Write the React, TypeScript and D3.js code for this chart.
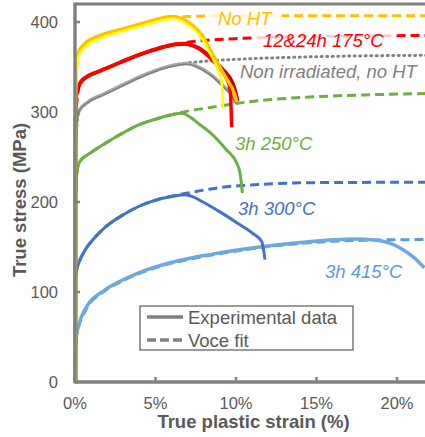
import React from 'react';
import * as d3 from 'd3';

const width = 425;
const height = 437;

// [true plastic strain (%), true stress (MPa)]
const noHtA = [[0.03, 0], [0.035, 300], [0.06, 335], [0.2, 365], [0.6, 376], [1.5, 384.5], [2.9, 392], [4, 397.5], [5, 402.5], [5.7, 405.5], [6.1, 406], [6.5, 404.5], [7.0, 400], [7.5, 393], [7.9, 385], [8.3, 372], [8.8, 356], [9.4, 337], [9.95, 318], [10.05, 311]];
const noHtB = [[0.03, 0], [0.035, 300], [0.08, 340], [0.2, 361], [0.6, 372], [1.5, 381.5], [2.9, 389.5], [4, 395], [5, 400], [5.7, 403], [6.1, 403.5], [6.5, 402], [7.0, 397], [7.5, 390], [7.9, 381], [8.3, 368], [8.8, 350], [9.1, 334], [9.2, 304]];
const red175A = [[0.03, 0], [0.035, 290], [0.08, 318], [0.3, 331], [0.7, 338.5], [1.5, 345], [2.5, 352.5], [3.5, 360], [4.5, 366.5], [5.5, 372], [6.3, 375], [6.85, 375.5], [7.4, 373], [7.8, 370], [8.4, 361], [9.2, 347], [9.8, 332], [10.05, 317], [10.1, 312]];
const red175B = [[0.03, 0], [0.035, 280], [0.06, 305], [0.1, 322], [0.3, 332], [0.7, 339], [1.5, 345.5], [2.5, 353], [3.5, 360.5], [4.5, 367], [5.5, 372.5], [6.3, 375.5], [6.85, 376], [7.4, 373.5], [7.8, 369], [8.4, 360], [9.0, 348], [9.5, 334], [9.65, 322], [9.73, 283]];
const grayA = [[0.03, 0], [0.035, 260], [0.1, 290], [0.25, 301], [0.8, 311], [1.8, 320], [2.9, 329.5], [3.95, 338.5], [4.99, 346], [6.02, 351.5], [6.96, 354], [7.55, 351], [8.4, 342], [9.2, 329], [9.8, 317], [9.95, 310]];
const grayB = [[0.04, 0], [0.045, 265], [0.12, 292], [0.3, 302.5], [0.85, 311], [1.8, 319], [2.9, 328.5], [3.95, 337.5], [4.99, 345], [6.02, 350.5], [6.96, 353], [7.55, 350], [8.4, 341], [9.2, 328], [9.8, 316], [10.0, 309]];
const green250 = [[0.03, 0], [0.035, 200], [0.08, 228], [0.15, 237], [0.3, 245], [1, 255], [2, 266.5], [3, 277], [4, 286], [5, 292], [6, 297], [6.65, 298.5], [7.1, 295], [7.68, 287], [8.4, 277], [9.4, 258], [10.05, 243], [10.25, 232], [10.4, 210]];
const blue300 = [[0.03, 0], [0.035, 115], [0.1, 124], [0.23, 132], [0.64, 147], [1.26, 161], [1.88, 172], [2.92, 185], [3.95, 195], [4.99, 202], [6.02, 206], [6.85, 208], [7.3, 206], [7.95, 200], [9.0, 189], [10.05, 177], [11.05, 165], [11.6, 156], [11.8, 136]];
const lightBlue415 = [[0.03, 0], [0.05, 47], [0.2, 61], [0.7, 83], [1.75, 101], [2.8, 112], [3.85, 120.5], [4.85, 127], [5.9, 132.5], [7, 137], [8, 140.5], [9, 143.5], [10, 146.3], [11.7, 150.5], [14.0, 155], [16.0, 158], [17.3, 159], [18.75, 157.5], [20.2, 149], [21.0, 139], [21.7, 127]];

// Voce fits
const fitNoHt = [[0, 320], [0.2, 364], [0.6, 375], [1.5, 384], [2.9, 391.5], [4, 397], [5, 401.5], [6, 404.5], [7, 406], [8, 406.7], [10, 407], [15, 407], [22, 407]];
const fitRed = [[0, 290], [0.3, 332], [0.7, 339], [1.5, 345.5], [2.5, 353], [3.5, 360.5], [4.5, 367], [5.5, 372.5], [6.3, 375.5], [7, 377.5], [8, 379.5], [10, 381.5], [12, 383], [15, 384], [22, 385]];
const fitGray = [[0, 260], [0.25, 301], [0.8, 311], [1.8, 320], [2.9, 329.5], [3.95, 338.5], [4.99, 346], [6.02, 351.5], [7, 354.5], [8, 356.3], [10, 358.5], [13, 360.5], [16, 361.8], [22, 363]];
const fitGreen = [[0, 200], [0.15, 237], [0.3, 245], [1, 255], [2, 266.5], [3, 277], [4, 286], [5, 292], [6, 297], [7, 301], [8.4, 305], [10, 309.5], [12, 313.5], [15, 317], [18, 319], [22, 320.5]];
const fitBlue = [[0, 120], [0.23, 132], [0.64, 147], [1.26, 161], [1.88, 172], [2.92, 185], [3.95, 195], [4.99, 202], [6.02, 206.5], [7, 210], [9, 216], [12, 220], [15, 221.5], [22, 222]];
const fitLightBlue = [[0, 45], [0.2, 60], [0.7, 81], [1.75, 100], [2.8, 111], [3.85, 119.5], [4.85, 126], [5.9, 131.5], [7, 136], [8, 139.5], [10, 145.5], [12, 150.5], [14, 154], [16, 156.3], [18, 157.5], [22, 158.3]];

const yTicks = [0, 100, 200, 300, 400];
const xTicks = [0, 5, 10, 15, 20];

const font = '"Liberation Sans", Arial, sans-serif';
const axisGray = '#808080';
const textGray = '#595959';

const x = d3.scaleLinear().domain([0, 22]).range([75, 75 + 22 * 16.1]);
const y = d3.scaleLinear().domain([0, 420]).range([382, 4]);

const line = d3.line<number[]>()
  .x(d => x(d[0]))
  .y(d => y(d[1]))
  .curve(d3.curveMonotoneX);

const fits = [
  { data: fitNoHt, color: '#FFC000', dash: '9,5' },
  { data: fitRed, color: '#FF0000', dash: '9,5' },
  { data: fitGray, color: '#808080', dash: '1,4.5', cap: 'round' },
  { data: fitGreen, color: '#70AD47', dash: '9,5' },
  { data: fitBlue, color: '#4472C4', dash: '9,5' },
  { data: fitLightBlue, color: '#5B9BD5', dash: '9,5' },
];

const curves = [
  { data: lightBlue415, color: '#6FA8DC', w: 3.5 },
  { data: blue300, color: '#4472C4', w: 3 },
  { data: green250, color: '#70AD47', w: 3 },
  { data: grayA, color: '#A6A6A6', w: 3.5 },
  { data: grayB, color: '#808080', w: 1.5 },
  { data: red175A, color: '#C00000', w: 3.5 },
  { data: red175B, color: '#FF0000', w: 3.5 },
  { data: noHtA, color: '#FFC000', w: 3.5 },
  { data: noHtB, color: '#FFFF00', w: 2.5 },
];

const labels = [
  { text: 'No HT', x: 218, y: 25, color: '#FFC000', bg: [205, 8, 77, 20] },
  { text: '12&24h 175°C', x: 263, y: 47, color: '#FF0000', bg: [252, 30, 142, 21] },
  { text: 'Non irradiated, no HT', x: 240, y: 78, color: '#808080' },
  { text: '3h 250°C', x: 235, y: 150, color: '#70AD47' },
  { text: '3h 300°C', x: 238, y: 215, color: '#4472C4' },
  { text: '3h 415°C', x: 325, y: 278, color: '#5B9BD5' },
];

export default function App() {
  return (
    <svg width={width} height={height} style={{ position: 'absolute', left: 0, top: 0, background: '#fff' }}>
      {fits.map((f, i) => (
        <path key={'f' + i} d={line(f.data) || ''} fill="none" stroke={f.color}
          strokeWidth={3} strokeDasharray={f.dash} strokeLinecap={(f.cap as any) || 'butt'} />
      ))}
      {labels.filter(l => l.bg).map((l, i) => (
        <rect key={'b' + i} x={l.bg![0]} y={l.bg![1]} width={l.bg![2]} height={l.bg![3]} fill="#fff" opacity={0.8} />
      ))}
      {curves.map((c, i) => (
        <path key={'c' + i} d={line(c.data) || ''} fill="none" stroke={c.color} strokeWidth={c.w} strokeLinejoin="round" />
      ))}

      {/* axes */}
      <line x1={75} x2={width} y1={y(420)} y2={y(420)} stroke={axisGray} strokeWidth={3} />
      <line x1={75} x2={75} y1={y(420) - 1.5} y2={y(0) + 1.5} stroke={axisGray} strokeWidth={3.5} />
      <line x1={75} x2={width} y1={y(0)} y2={y(0)} stroke={axisGray} strokeWidth={3.5} />
      {yTicks.map(t => (
        <g key={'y' + t}>
          {t > 0 && <line x1={75} x2={80} y1={y(t)} y2={y(t)} stroke={axisGray} strokeWidth={2.5} />}
          <text x={58} y={y(t)} dy="0.35em" textAnchor="end" fontFamily={font} fontSize={16.5} fill={textGray}>{t}</text>
        </g>
      ))}
      {xTicks.map(t => (
        <g key={'x' + t}>
          {t > 0 && <line x1={x(t)} x2={x(t)} y1={y(0)} y2={y(0) - 5} stroke={axisGray} strokeWidth={2.5} />}
          <text x={x(t)} y={409} textAnchor="middle" fontFamily={font} fontSize={16.5} fill={textGray}>{t + '%'}</text>
        </g>
      ))}
      <text x={253.5} y={428} textAnchor="middle" fontFamily={font} fontSize={18.5} fontWeight="bold" fill={textGray}>True plastic strain (%)</text>
      <text transform="translate(26,200) rotate(-90)" textAnchor="middle" fontFamily={font} fontSize={18.5} fontWeight="bold" fill={textGray}>True stress (MPa)</text>

      {labels.map((l, i) => (
        <text key={'l' + i} x={l.x} y={l.y} fontFamily={font} fontSize={18.5} fontStyle="italic" fill={l.color}>{l.text}</text>
      ))}

      {/* legend */}
      <rect x={140} y={306} width={213} height={44} fill="#fff" stroke={textGray} strokeWidth={1.2} />
      <line x1={147} x2={183} y1={317} y2={317} stroke={axisGray} strokeWidth={3.5} />
      <line x1={147} x2={183} y1={340} y2={340} stroke={axisGray} strokeWidth={3.5} strokeDasharray="9,4" />
      <text x={188} y={324} fontFamily={font} fontSize={18.5} fill={textGray}>Experimental data</text>
      <text x={188} y={347} fontFamily={font} fontSize={18.5} fill={textGray}>Voce fit</text>
    </svg>
  );
}
